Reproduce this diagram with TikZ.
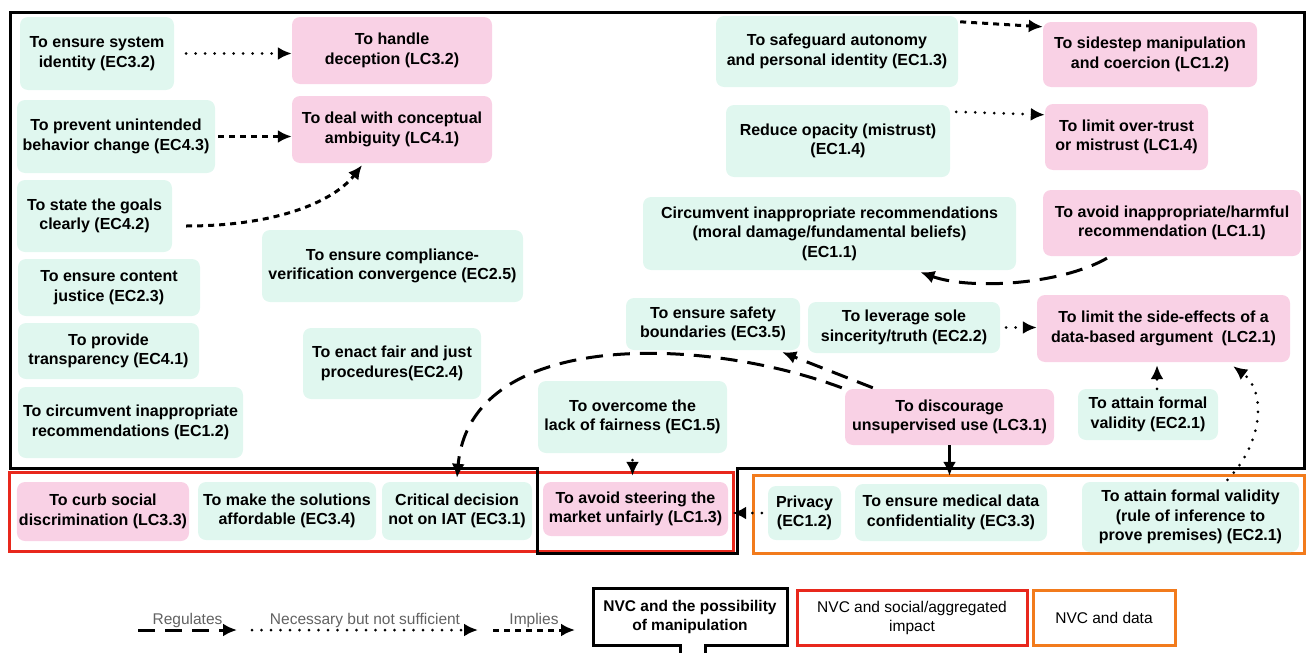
\documentclass[tikz,border=0pt]{standalone}
\usepackage{fontspec}
\setmainfont{Liberation Sans}
\usetikzlibrary{arrows.meta}

\definecolor{ecgreen}{HTML}{E0F7EF}
\definecolor{lcpink}{HTML}{F9D1E5}
\definecolor{framered}{HTML}{E8281C}
\definecolor{frameorange}{HTML}{F27B1C}
\definecolor{legendgray}{HTML}{626262}

\begin{document}
\begin{tikzpicture}[x=1pt, y=-1pt, >={Latex[length=14pt,width=13pt]},
  box/.style={rounded corners=8pt, align=center, inner sep=2pt,
    font=\bfseries\fontsize{16}{19.5}\selectfont},
  ec/.style={box, fill=ecgreen},
  lc/.style={box, fill=lcpink},
  regulates/.style={->, line width=3pt, dash pattern=on 17pt off 10pt},
  necessary/.style={->, line width=3pt, line cap=round, dash pattern=on 0pt off 9.5pt},
  implies/.style={->, line width=3pt, dash pattern=on 6pt off 5pt},
  frame/.style={line width=3pt},
  legendlbl/.style={text=legendgray, inner sep=1pt, font=\fontsize{15.5}{18}\selectfont},
  legendbox/.style={frame, align=center, font=\fontsize{15.5}{19}\selectfont}]
  \useasboundingbox (0,0) rectangle (1306,653);

  % group frames
  \draw[frame, framered] (9,472) rectangle (733,551);
  \draw[frame, frameorange] (753,475) rectangle (1304,553);
  \draw[frame] (10,12) -- (1304,12) -- (1304,468) -- (737,468) -- (737,553)
    -- (537,553) -- (537,468) -- (10,468) -- cycle;

  % left column
  \node[ec, minimum width=154pt, minimum height=73pt] (ec32) at (97,53.5) {To ensure system\\identity (EC3.2)};
  \node[lc, minimum width=200pt, minimum height=67pt] (lc32) at (392,50.5) {To handle\\deception (LC3.2)};
  \node[ec, minimum width=198pt, minimum height=73pt] (ec43) at (116,136.5) {To prevent unintended\\behavior change (EC4.3)};
  \node[lc, minimum width=200pt, minimum height=67pt] (lc41) at (392,129.5) {To deal with conceptual\\ambiguity (LC4.1)};
  \node[ec, minimum width=155pt, minimum height=72pt] (ec42) at (94.5,216) {To state the goals\\clearly (EC4.2)};
  \node[ec, minimum width=261pt, minimum height=72pt] (ec25) at (392.5,266) {To ensure compliance-\\verification convergence (EC2.5)};
  \node[ec, minimum width=182pt, minimum height=57pt] (ec23) at (109,287.5) {To ensure content\\justice (EC2.3)};
  \node[ec, minimum width=181pt, minimum height=56pt] (ec41) at (108.5,351) {To provide\\transparency (EC4.1)};
  \node[ec, minimum width=225pt, minimum height=71pt] (ec12rec) at (130.5,422.5) {To circumvent inappropriate\\recommendations (EC1.2)};
  \node[ec, minimum width=178pt, minimum height=71pt] (ec24) at (392,363.5) {To enact fair and just\\procedures(EC2.4)};

  % right column
  \node[ec, minimum width=242pt, minimum height=71pt] (ec13) at (837,51.5) {To safeguard autonomy\\and personal identity (EC1.3)};
  \node[lc, minimum width=214pt, minimum height=65pt] (lc12) at (1150,54.5) {To sidestep manipulation\\and coercion (LC1.2)};
  \node[ec, minimum width=224pt, minimum height=72pt] (ec14) at (838,141) {Reduce opacity (mistrust)\\(EC1.4)};
  \node[lc, minimum width=163pt, minimum height=66pt] (lc14) at (1126.5,137) {To limit over-trust\\or mistrust (LC1.4)};
  \node[ec, minimum width=373pt, minimum height=73pt] (ec11) at (829.5,233.5) {Circumvent inappropriate recommendations\\(moral damage/fundamental beliefs)\\(EC1.1)};
  \node[lc, minimum width=258pt, minimum height=66pt] (lc11) at (1172,223) {To avoid inappropriate/harmful\\recommendation (LC1.1)};
  \node[ec, minimum width=174pt, minimum height=52pt] (ec35) at (713,324) {To ensure safety\\boundaries (EC3.5)};
  \node[ec, minimum width=192pt, minimum height=51pt] (ec22) at (904,327.5) {To leverage sole\\sincerity/truth (EC2.2)};
  \node[lc, minimum width=253pt, minimum height=67pt] (lc21) at (1163.5,328.5) {To limit the side-effects of a\\data-based argument\ \ (LC2.1)};
  \node[ec, minimum width=189pt, minimum height=72pt] (ec15) at (632.5,417) {To overcome the\\lack of fairness (EC1.5)};
  \node[lc, minimum width=209pt, minimum height=56pt] (lc31) at (949.5,417) {To discourage\\unsupervised use (LC3.1)};
  \node[ec, minimum width=140pt, minimum height=51pt] (ec21val) at (1148,414.5) {To attain formal\\validity (EC2.1)};

  % bottom row
  \node[lc, minimum width=172pt, minimum height=59pt] (lc33) at (103,511.5) {To curb social\\discrimination (LC3.3)};
  \node[ec, minimum width=178pt, minimum height=58pt] (ec34) at (287,511) {To make the solutions\\affordable (EC3.4)};
  \node[ec, minimum width=150pt, minimum height=58pt] (ec31) at (457,511) {Critical decision\\not on IAT (EC3.1)};
  \node[lc, minimum width=185pt, minimum height=54pt] (lc13) at (635.5,509) {To avoid steering the\\market unfairly (LC1.3)};
  \node[ec, minimum width=73pt, minimum height=54pt] (ec12priv) at (804.5,513) {Privacy\\(EC1.2)};
  \node[ec, minimum width=192pt, minimum height=57pt] (ec33) at (951,512.5) {To ensure medical data\\confidentiality (EC3.3)};
  \node[ec, minimum width=217pt, minimum height=70pt] (ec21rule) at (1190.5,517) {To attain formal validity\\(rule of inference to\\prove premises) (EC2.1)};

  % connectors
  \draw[necessary] ([xshift=12pt]ec32.east) -- (ec32.east -| lc32.west);
  \draw[implies] ([xshift=3pt]ec43.east) -- (ec43.east -| lc41.west);
  \draw[implies] ([xshift=14pt,yshift=-10pt]ec42.east) .. controls (280,226) and (335,200) .. ([xshift=-30pt,yshift=-2pt]lc41.south);
  \draw[implies] ([xshift=2pt,yshift=-6pt]ec13.north east) -- ([yshift=-5pt]lc12.north west);
  \draw[necessary] ([xshift=6pt,yshift=-7pt]ec14.north east) -- ([yshift=-11pt]lc14.north west);
  \draw[regulates] ([xshift=-65pt,yshift=-2pt]lc11.south) .. controls (1060,285) and (970,290) .. ([xshift=91pt,yshift=-2pt]ec11.south);
  \draw[necessary] ([xshift=6pt]ec22.east) -- (ec22.east -| lc21.west);
  \draw[regulates] ([xshift=28pt,yshift=1pt]lc31.north west) -- ([xshift=-18pt,yshift=-2pt]ec35.south east);
  \draw[regulates] ([xshift=-3pt,yshift=1pt]lc31.north west) .. controls (700,335) and (470,330) .. ([yshift=4pt]ec31.north);
  \draw[necessary] ([yshift=-7pt]ec15.south) -- ([yshift=6pt]ec15.south |- lc13.north);
  \draw[->, line width=2.6pt] (lc31.south) -- ([yshift=8pt]lc31.south |- ec33.north);
  \draw[necessary] ([xshift=9pt]ec21val.north) -- ([xshift=9pt,yshift=-3pt]ec21val.north |- lc21.south);
  \draw[necessary] ([xshift=37pt,yshift=2pt]ec21rule.north) .. controls (1265,440) and (1265,390) .. ([xshift=-57pt,yshift=-4pt]lc21.south east);
  \draw[necessary] ([xshift=-6pt]ec12priv.west) -- ([xshift=4pt]ec12priv.west -| lc13.east);

  % legend
  \foreach \lgid/\lgsty/\lgtxt/\xa/\xb in {reg/regulates/Regulates/138/237,
      nec/necessary/Necessary but not sufficient/252/478, imp/implies/Implies/493/575} {
    \coordinate (\lgid-a) at (\xa,630);
    \coordinate (\lgid-b) at (\xb,630);
    \draw[\lgsty] (\lgid-a) -- (\lgid-b);
    \path (\lgid-a) -- (\lgid-b) node[midway, above=1pt, legendlbl] (\lgid-lbl) {\lgtxt};
  }
  \draw[frame] (680,656) -- (680,645) -- (593,645) -- (593,588) -- (787,588)
    -- (787,645) -- (705,645) -- (705,656);
  \node[align=center, font=\bfseries\fontsize{15.5}{19}\selectfont] (leg-manip) at (690,616.5) {NVC and the possibility\\of manipulation};
  \node[legendbox, draw=framered, minimum width=230pt, minimum height=55pt] (leg-social) at (912,617.5) {NVC and social/aggregated\\impact};
  \node[legendbox, draw=frameorange, minimum width=142pt, minimum height=55pt] (leg-data) at (1104,617.5) {NVC and data};
\end{tikzpicture}
\end{document}
